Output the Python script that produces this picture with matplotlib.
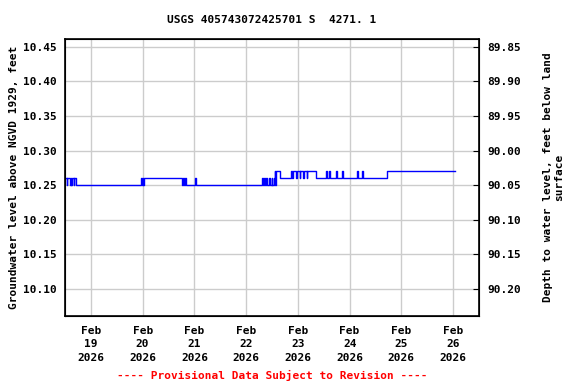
import matplotlib
matplotlib.use("Agg")
import matplotlib.pyplot as plt
import matplotlib.dates as mdates
import numpy as np
from datetime import datetime, timedelta

# Change points: hours after 2026-02-18 12:00, and groundwater level (ft above NGVD 1929)
change_hours = [0, 0.7, 1.0, 2.2, 2.6, 3.0, 3.4, 4.0, 4.4, 5.0,
                35.3, 35.6, 36.0, 36.4, 36.8,
                54.4, 54.8, 55.2, 55.6, 56.0,
                60.3, 60.7,
                91.2, 91.6, 92.2, 92.6, 93.4, 93.8, 94.6, 95.0, 95.8, 96.2, 96.8, 97.2, 97.6, 98.0, 99.5,
                105.0, 105.4, 105.9, 107.2, 107.6, 108.8, 109.2, 110.4, 110.8, 112.0, 112.4, 116.3,
                121.2, 121.5, 122.6, 122.9, 125.8, 126.1, 128.6, 128.9, 135.6, 135.9, 137.9, 138.2,
                149.3, 181.0]
levels = [10.26, 10.25, 10.26, 10.25, 10.26, 10.25, 10.26, 10.25, 10.26, 10.25,
          10.26, 10.25, 10.26, 10.25, 10.26,
          10.25, 10.26, 10.25, 10.26, 10.25,
          10.26, 10.25,
          10.26, 10.25, 10.26, 10.25, 10.26, 10.25, 10.26, 10.25, 10.26, 10.25, 10.26, 10.27, 10.25, 10.27, 10.26,
          10.27, 10.26, 10.27, 10.26, 10.27, 10.26, 10.27, 10.26, 10.27, 10.26, 10.27, 10.26,
          10.27, 10.26, 10.27, 10.26, 10.27, 10.26, 10.27, 10.26, 10.27, 10.26, 10.27, 10.26,
          10.27, 10.27]

left_ticks = [10.10, 10.15, 10.20, 10.25, 10.30, 10.35, 10.40, 10.45]
right_ticks = [89.85, 89.90, 89.95, 90.00, 90.05, 90.10, 90.15, 90.20]
datum_offset = 100.30

start = datetime(2026, 2, 18, 12, 0)
times = [start + timedelta(hours=h) for h in change_hours]

mono = "DejaVu Sans Mono"
fig = plt.figure(figsize=(5.76, 3.84), dpi=100)
ax = fig.add_axes([65/576, (384-316)/384, (479-65)/576, (316-39)/384])
ax.plot(times, levels, color="#0000ff", lw=1.0, drawstyle="steps-post")

ylo, yhi = 10.061, 10.4611
ax.set_ylim(ylo, yhi)
ax.set_xlim(start, start + timedelta(days=8))
ax.set_yticks(left_ticks)
ax.set_yticklabels([f"{v:.2f}" for v in left_ticks], family=mono, weight="bold", fontsize=8)
ax.xaxis.set_major_locator(mdates.DayLocator())
ax.xaxis.set_major_formatter(mdates.DateFormatter("%b\n%d\n%Y"))
for lab in ax.get_xticklabels():
    lab.set_family(mono); lab.set_weight("bold"); lab.set_fontsize(8)
    lab.set_linespacing(1.45)
ax.tick_params(axis="both", length=0, pad=6)
ax.tick_params(axis="x", pad=7)
ax.grid(True, color="#cccccc", lw=1)
ax.set_axisbelow(True)
for s in ax.spines.values():
    s.set_linewidth(1.2)

ax2 = ax.twinx()
ax2.set_ylim(datum_offset - ylo, datum_offset - yhi)
ax2.set_yticks(right_ticks)
ax2.set_yticklabels([f"{v:.2f}" for v in right_ticks], family=mono, weight="bold", fontsize=8)
ax2.tick_params(axis="y", length=4, direction="in", pad=6)

ax.set_ylabel("Groundwater level above NGVD 1929, feet", family=mono, weight="bold", fontsize=8, labelpad=3)
ax2.set_ylabel("Depth to water level, feet below land\nsurface", family=mono, weight="bold", fontsize=8,
               rotation=90, labelpad=16, linespacing=1.1)

fig.text(0.5*(65+479)/576, 1 - 20/384, "USGS 405743072425701 S  4271. 1", ha="center", va="center",
         family=mono, weight="bold", fontsize=8)
fig.text(0.5*(65+479)/576, 1 - 375/384, "---- Provisional Data Subject to Revision ----", ha="center",
         va="center", family=mono, weight="bold", fontsize=8, color="red")

fig.savefig("out.png", dpi=100)
